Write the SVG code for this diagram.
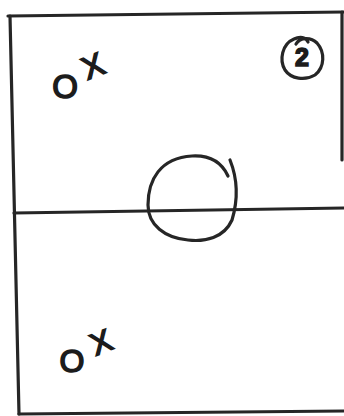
<svg xmlns="http://www.w3.org/2000/svg" width="344" height="416" viewBox="0 0 344 416">
<style>
.ln{fill:none;stroke:#262626;stroke-width:3.2;stroke-linecap:round;stroke-linejoin:round}
.mk{font-family:"Liberation Sans",Arial,sans-serif;fill:#1c1c1c;stroke:#1c1c1c;stroke-width:1.6;text-anchor:middle}
</style>
<rect width="344" height="416" fill="#ffffff"/>
<g id="court">
<path class="ln" d="M8,16 L344,12"/>
<path class="ln" d="M10,16 L19,414"/>
<path class="ln" d="M19,414 L344,411"/>
<path class="ln" d="M342,12 L342,160"/>
<path class="ln" d="M14,213 L344,208"/>
</g>
<g id="center-circle">
<path class="ln" d="M230,160 C238,180 238,200 232,220 C224,238 205,242 188,240 C165,238 148,225 148,205 C148,180 160,158 192,156 C210,155 222,163 228,176"/>
</g>
<g id="label-2">
<path class="ln" d="M296,44 C300,37 311,37 317,43 C325,52 325,67 315,75 C305,81 291,79 285,70 C279,60 282,44 294,39 C300,36 306,37 308,42"/>
<text class="mk" x="302" y="66" font-size="25" font-weight="bold" stroke-width="0.6">2</text>
</g>
<g id="player-top">
<text class="mk" x="65" y="98" font-size="33">O</text>
<text class="mk" font-size="32" transform="translate(93,66) rotate(-22)" x="0" y="11">X</text>
</g>
<g id="player-bottom">
<text class="mk" x="72" y="372" font-size="32">O</text>
<text class="mk" font-size="31" transform="translate(101,342) rotate(-22)" x="0" y="11">X</text>
</g>
</svg>
